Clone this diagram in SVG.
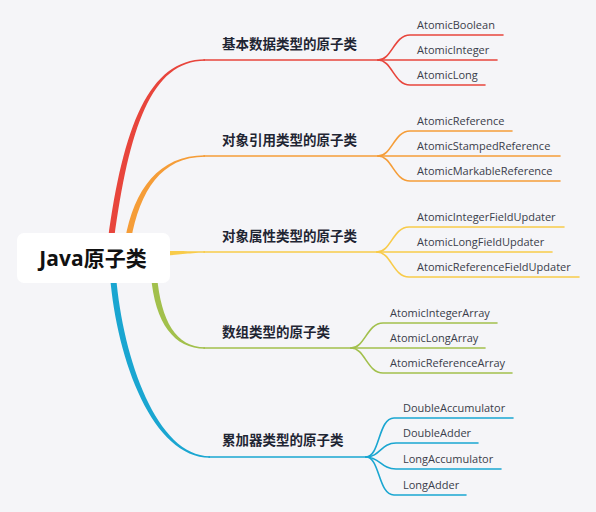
<svg xmlns="http://www.w3.org/2000/svg" width="596" height="512" viewBox="0 0 596 512">
<style>
.bg{fill:#f5f5f8}
.root{fill:#ffffff}
.rt{font-family:"Open Sans","Noto Sans CJK SC",sans-serif;font-weight:700;font-size:21px;fill:#111111}
.lbl{font-family:"Noto Sans CJK SC","Open Sans",sans-serif;font-weight:700;font-size:13.5px;fill:#1f2533}
.leaf{font-family:"Open Sans","Noto Sans",sans-serif;font-size:11px;fill:#3a3d4a}
.ln{fill:none;stroke-width:1.6;stroke-linecap:round}
.red{stroke:#e8453c}.redf{fill:#e8453c}
.org{stroke:#f59d38}.orgf{fill:#f59d38}
.yel{stroke:#f8cb4a}.yelf{fill:#f8cb4a}
.grn{stroke:#a2c04c}.grnf{fill:#a2c04c}
.blu{stroke:#1aa6d1}.bluf{fill:#1aa6d1}
</style>
<rect class="bg" x="0" y="0" width="596" height="512"/>
<g id="connectors">
  <!-- main tapered branches -->
  <path class="redf" d="M108,240 C123,127 149,59.2 205,59.2 L205,60.8 C151,60.8 129,129 114,240 Z"/>
  <path class="orgf" d="M125,240 C134,189 159,155.2 205,155.2 L205,156.8 C161,156.8 140,191 131,240 Z"/>
  <path class="yelf" d="M160,251 C180,251 186,251.2 205,251.2 L205,252.8 C186,252.8 180,255.5 160,255.5 Z"/>
  <path class="grnf" d="M151,276 C155,323 174,348.8 205,348.8 L205,347.2 C176,347.2 161,321 157,276 Z"/>
  <path class="bluf" d="M110,276 C117,361 153,457.8 210,457.8 L210,456.2 C157,456.2 123,359 116,276 Z"/>
  <!-- horizontal trunks -->
  <path class="ln red" d="M204,60 L379,60"/>
  <path class="ln org" d="M204,156 L379,156"/>
  <path class="ln yel" d="M204,252 L378,252"/>
  <path class="ln grn" d="M204,348 L352,348"/>
  <path class="ln blu" d="M209,457 L367,457"/>
  <!-- red fork -->
  <path class="ln red" d="M378,60 C392,60 394,35 410,35 L503,35"/>
  <path class="ln red" d="M378,60 L497,60"/>
  <path class="ln red" d="M378,60 C392,60 394,85 410,85 L485,85"/>
  <!-- orange fork -->
  <path class="ln org" d="M378,156 C392,156 394,131 410,131 L512,131"/>
  <path class="ln org" d="M378,156 L560,156"/>
  <path class="ln org" d="M378,156 C392,156 394,181 410,181 L560,181"/>
  <!-- yellow fork -->
  <path class="ln yel" d="M377,252 C391,252 393,227 409,227 L564,227"/>
  <path class="ln yel" d="M377,252 L552,252"/>
  <path class="ln yel" d="M377,252 C391,252 393,277 409,277 L579,277"/>
  <!-- green fork -->
  <path class="ln grn" d="M351,348 C365,348 367,323 383,323 L497,323"/>
  <path class="ln grn" d="M351,348 L485,348"/>
  <path class="ln grn" d="M351,348 C365,348 367,373 383,373 L512,373"/>
  <!-- blue fork -->
  <path class="ln blu" d="M366,457 C380,457 378,418 394,418 L513,418"/>
  <path class="ln blu" d="M366,457 C380,457 381,443 396,443 L478,443"/>
  <path class="ln blu" d="M366,457 C380,457 381,469 396,469 L501,469"/>
  <path class="ln blu" d="M366,457 C380,457 378,495 394,495 L466,495"/>
</g>
<g id="root">
  <rect class="root" x="17" y="233" width="153" height="50" rx="7"/>
  <text class="rt" x="93" y="266" text-anchor="middle">Java原子类</text>
</g>
<g id="n-basic">
  <text class="lbl" x="222" y="49">基本数据类型的原子类</text>
</g>
<g id="n-basic-1"><text class="leaf" x="417" y="29">AtomicBoolean</text></g>
<g id="n-basic-2"><text class="leaf" x="417" y="54">AtomicInteger</text></g>
<g id="n-basic-3"><text class="leaf" x="417" y="79">AtomicLong</text></g>
<g id="n-ref">
  <text class="lbl" x="222" y="145">对象引用类型的原子类</text>
</g>
<g id="n-ref-1"><text class="leaf" x="417" y="125">AtomicReference</text></g>
<g id="n-ref-2"><text class="leaf" x="417" y="150">AtomicStampedReference</text></g>
<g id="n-ref-3"><text class="leaf" x="417" y="175">AtomicMarkableReference</text></g>
<g id="n-field">
  <text class="lbl" x="222" y="241">对象属性类型的原子类</text>
</g>
<g id="n-field-1"><text class="leaf" x="417" y="221">AtomicIntegerFieldUpdater</text></g>
<g id="n-field-2"><text class="leaf" x="417" y="246">AtomicLongFieldUpdater</text></g>
<g id="n-field-3"><text class="leaf" x="417" y="271">AtomicReferenceFieldUpdater</text></g>
<g id="n-array">
  <text class="lbl" x="222" y="337">数组类型的原子类</text>
</g>
<g id="n-array-1"><text class="leaf" x="390" y="317">AtomicIntegerArray</text></g>
<g id="n-array-2"><text class="leaf" x="390" y="342">AtomicLongArray</text></g>
<g id="n-array-3"><text class="leaf" x="390" y="367">AtomicReferenceArray</text></g>
<g id="n-acc">
  <text class="lbl" x="222" y="445">累加器类型的原子类</text>
</g>
<g id="n-acc-1"><text class="leaf" x="403" y="412">DoubleAccumulator</text></g>
<g id="n-acc-2"><text class="leaf" x="403" y="437">DoubleAdder</text></g>
<g id="n-acc-3"><text class="leaf" x="403" y="463">LongAccumulator</text></g>
<g id="n-acc-4"><text class="leaf" x="403" y="489">LongAdder</text></g>
</svg>
